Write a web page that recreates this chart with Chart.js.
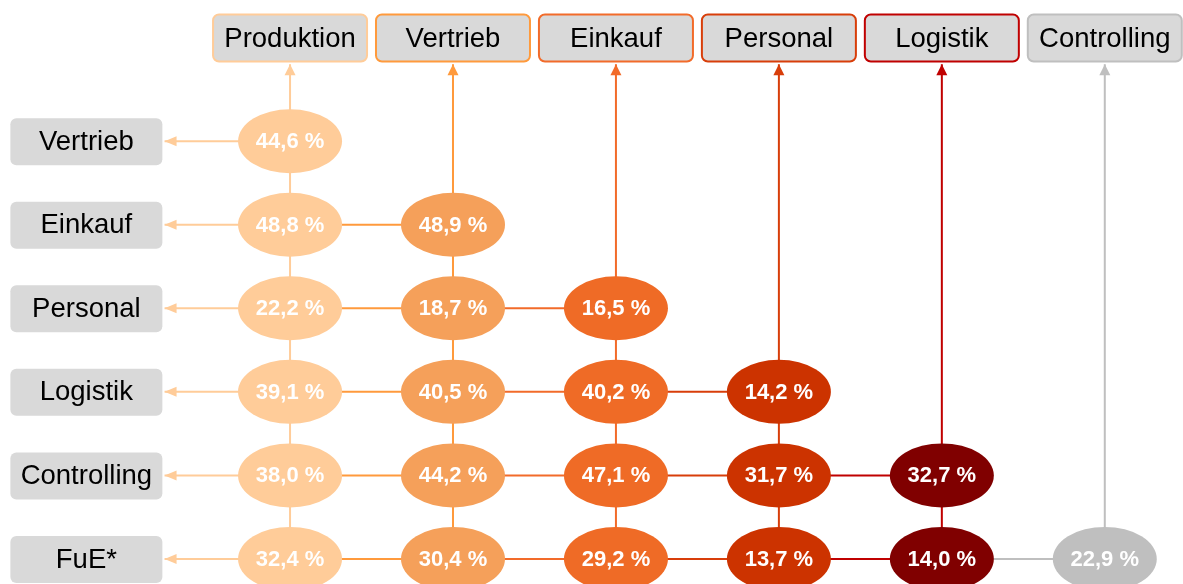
<!DOCTYPE html>
<html>
<head>
<meta charset="utf-8">
<script src="https://cdn.jsdelivr.net/npm/chart.js@4"></script>
<style>
  html, body { margin: 0; padding: 0; background: #fff; }
  #wrap { width: 1183px; height: 584px; }
</style>
</head>
<body>
<div id="wrap"><canvas id="chart"></canvas></div>
<script>
// departments along the top (from) and down the left (to)
const columns = ['Produktion', 'Vertrieb', 'Einkauf', 'Personal', 'Logistik', 'Controlling'];
const rows = ['Vertrieb', 'Einkauf', 'Personal', 'Logistik', 'Controlling', 'FuE*'];

// one array per column, top to bottom (column j starts at row j)
const produktion = [44.6, 48.8, 22.2, 39.1, 38.0, 32.4];
const vertrieb = [48.9, 18.7, 40.5, 44.2, 30.4];
const einkauf = [16.5, 40.2, 47.1, 29.2];
const personal = [14.2, 31.7, 13.7];
const logistik = [32.7, 14.0];
const controlling = [22.9];
const series = [produktion, vertrieb, einkauf, personal, logistik, controlling];

const fillColors = ['#FFCC99', '#F5A05A', '#EF6B26', '#CC3300', '#800000', '#BFBFBF'];
const lineColors = ['#FFCC99', '#FF9A3C', '#F26B2A', '#D83E0A', '#C00000', '#BFBFBF'];

// layout in scale units
const HEAD_Y = -1.23;      // header boxes
const LABEL_X = -1.25;     // row label boxes
const TIP_X = -0.77;       // left arrow tips
const TIP_Y = -0.92;       // top arrow tips

const FONT = "'Liberation Sans', Arial, sans-serif";

function fmt(v) {
    return v.toFixed(1).replace('.', ',') + ' %';
}

const datasets = [];

// horizontal connectors, one per row
rows.forEach((r, ri) => {
    const pts = [{x: TIP_X, y: ri}];
    for (let c = 0; c <= ri; c++) pts.push({x: c, y: ri});
    datasets.push({
        type: 'line',
        data: pts,
        borderWidth: 2,
        pointRadius: 0,
        borderColor: lineColors[0],
        segment: {
            borderColor: ctx => lineColors[ctx.p1DataIndex - 1]
        },
        arrow: 'left',
        arrowColor: lineColors[0]
    });
});

// vertical connectors, one per column
columns.forEach((c, ci) => {
    datasets.push({
        type: 'line',
        data: [{x: ci, y: TIP_Y}, {x: ci, y: rows.length - 1}],
        borderWidth: 2,
        pointRadius: 0,
        borderColor: lineColors[ci],
        arrow: 'up',
        arrowColor: lineColors[ci]
    });
});

// the values themselves
series.forEach((vals, ci) => {
    datasets.push({
        type: 'scatter',
        data: vals.map((v, k) => ({x: ci, y: ci + k, v: v})),
        pointRadius: 0,
        kind: 'value',
        fill: fillColors[ci]
    });
});

const matrixPlugin = {
    id: 'matrix',
    beforeDatasetsDraw(chart) {
        const ctx = chart.ctx;
        const xs = chart.scales.x, ys = chart.scales.y;
        ctx.save();
        ctx.textAlign = 'center';
        ctx.textBaseline = 'middle';
        ctx.font = '27.5px ' + FONT;
        // header boxes
        const hy = ys.getPixelForValue(HEAD_Y);
        columns.forEach((name, ci) => {
            const cx = xs.getPixelForValue(ci);
            ctx.beginPath();
            ctx.roundRect(cx - 77, hy - 24, 154, 47, 6);
            ctx.fillStyle = '#D9D9D9';
            ctx.fill();
            ctx.lineWidth = 2;
            ctx.strokeStyle = lineColors[ci];
            ctx.stroke();
            ctx.fillStyle = '#000';
            ctx.fillText(name, cx, hy + 1);
        });
        // row labels
        const lx = xs.getPixelForValue(LABEL_X);
        rows.forEach((name, ri) => {
            const cy = ys.getPixelForValue(ri);
            ctx.beginPath();
            ctx.roundRect(lx - 76, cy - 23, 152, 47, 6);
            ctx.fillStyle = '#D9D9D9';
            ctx.fill();
            ctx.fillStyle = '#000';
            ctx.fillText(name, lx, cy + 1);
        });
        ctx.restore();
    },
    afterDatasetsDraw(chart) {
        const ctx = chart.ctx;
        ctx.save();
        chart.data.datasets.forEach((ds, i) => {
            const meta = chart.getDatasetMeta(i);
            if (ds.arrow) {
                const p = meta.data[0];
                ctx.fillStyle = ds.arrowColor;
                ctx.beginPath();
                if (ds.arrow === 'left') {
                    ctx.moveTo(p.x, p.y);
                    ctx.lineTo(p.x + 12, p.y - 5);
                    ctx.lineTo(p.x + 12, p.y + 5);
                } else {
                    ctx.moveTo(p.x, p.y);
                    ctx.lineTo(p.x - 5.5, p.y + 11);
                    ctx.lineTo(p.x + 5.5, p.y + 11);
                }
                ctx.closePath();
                ctx.fill();
            }
            if (ds.kind === 'value') {
                meta.data.forEach((el, k) => {
                    ctx.beginPath();
                    ctx.ellipse(el.x, el.y, 52, 32, 0, 0, Math.PI * 2);
                    ctx.fillStyle = ds.fill;
                    ctx.fill();
                    ctx.fillStyle = '#fff';
                    ctx.font = 'bold 22px ' + FONT;
                    ctx.textAlign = 'center';
                    ctx.textBaseline = 'middle';
                    ctx.fillText(fmt(ds.data[k].v), el.x, el.y + 1);
                });
            }
        });
        ctx.restore();
    }
};

new Chart(document.getElementById('chart'), {
    type: 'scatter',
    data: {datasets: datasets},
    options: {
        responsive: true,
        maintainAspectRatio: false,
        animation: false,
        events: [],
        layout: {padding: 0},
        plugins: {legend: {display: false}, tooltip: {enabled: false}},
        scales: {
            x: {type: 'linear', display: false, min: -1.78, max: 5.48},
            y: {type: 'linear', display: false, reverse: true, min: -1.69, max: 5.30}
        }
    },
    plugins: [matrixPlugin]
});
</script>
</body>
</html>
